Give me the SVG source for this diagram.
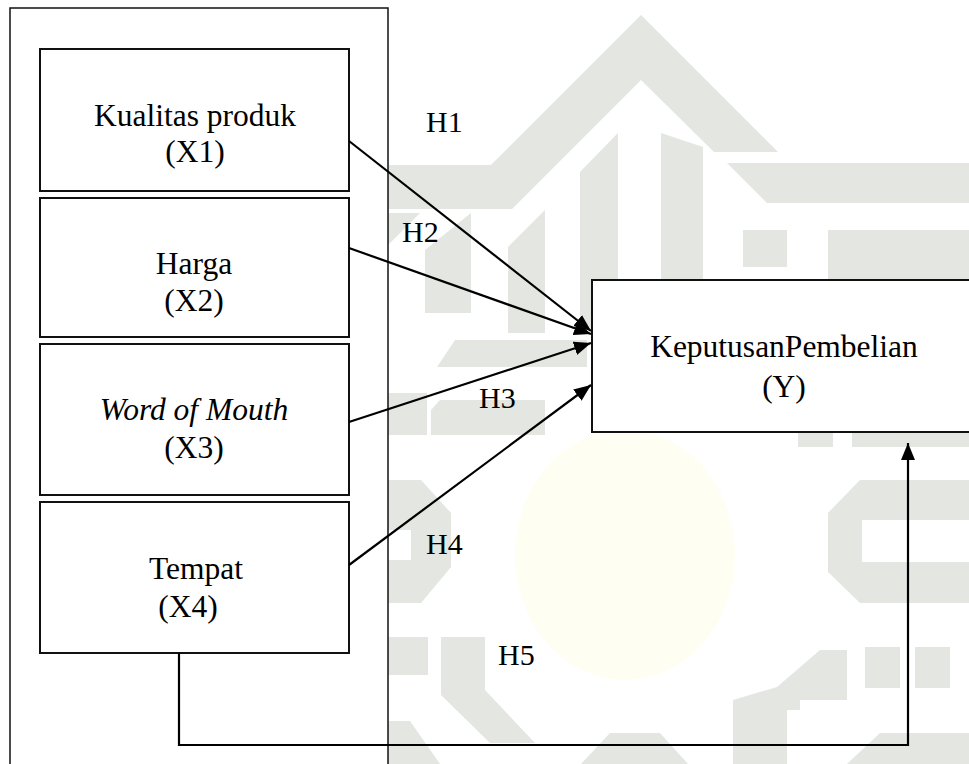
<svg xmlns="http://www.w3.org/2000/svg" width="969" height="764" viewBox="0 0 969 764">
  <defs>
    <style>
      .wm { fill: #e3e6e1; stroke: none; }
      .box { fill: #ffffff; stroke: #111111; stroke-width: 2; }
      .outer { fill: #ffffff; stroke: #111111; stroke-width: 1.5; }
      .lbl { font-family: "Liberation Serif", "Times New Roman", serif; font-size: 31.5px; fill: #000000; text-anchor: middle; }
      .hl { font-family: "Liberation Serif", "Times New Roman", serif; font-size: 30px; fill: #000000; }
      .conn { fill: none; stroke: #000000; stroke-width: 2.2; }
    </style>
    <marker id="arr" markerUnits="userSpaceOnUse" markerWidth="18" markerHeight="14" refX="17" refY="7" orient="auto">
      <path d="M0,0 L17,7 L0,14 Z" fill="#000000"/>
    </marker>
  </defs>

  <rect x="0" y="0" width="969" height="764" fill="#ffffff"/>

  <!-- watermark background -->
  <g id="watermark">
    <ellipse cx="625" cy="555" rx="110" ry="125" fill="#fffef3"/>
    <polygon class="wm" points="641,15 778,152 714,152 641,80 512,209 388,209 388,165 491,165"/>
    <polygon class="wm" points="727,163 969,163 969,203 767,203"/>
    <polygon class="wm" points="425,250 471,213 471,313 425,313"/>
    <polygon class="wm" points="388,213 420,213 388,245"/>
    <polygon class="wm" points="508,247 545,210 545,333 508,333"/>
    <polygon class="wm" points="580,172 618,133 618,330 580,330"/>
    <polygon class="wm" points="661,133 703,147 703,280 661,280"/>
    <rect class="wm" x="743" y="230" width="44" height="37"/>
    <rect class="wm" x="828" y="230" width="141" height="50"/>
    <polygon class="wm" points="455,340 587,340 587,367 437,367"/>
    <rect class="wm" x="388" y="393" width="39" height="42"/>
    <polygon class="wm" points="440,400 545,400 545,435 431,435 431,410"/>
    <path class="wm" d="M388,480 L421,480 L451,513 L451,567 L421,603 L388,603 Z"/>
    <rect x="388" y="530" width="23" height="30" fill="#ffffff"/>
    <rect class="wm" x="388" y="637" width="40" height="38"/>
    <polygon class="wm" points="441,637 485,637 485,690 535,743 490,743 441,695"/>
    <polygon class="wm" points="388,721 410,721 440,764 388,764"/>
    <polygon class="wm" points="610,733 660,733 688,764 581,764"/>
    <rect class="wm" x="798" y="433" width="35" height="14"/>
    <rect class="wm" x="852" y="433" width="117" height="14"/>
    <path class="wm" d="M860,480 L969,480 L969,520 L862,520 L862,562 L969,562 L969,603 L860,603 L828,572 L828,513 Z"/>
    <rect class="wm" x="865" y="647" width="35" height="41"/>
    <rect class="wm" x="915" y="647" width="35" height="41"/>
    <polygon class="wm" points="820,650 847,650 847,700 800,700 800,710 787,710 787,764 733,764 733,700 777,687"/>
    <polygon class="wm" points="880,733 969,733 969,764 847,764"/>
  </g>

  <!-- outer grouping box -->
  <g id="group-x">
    <rect class="outer" x="10" y="8" width="378" height="780"/>
  </g>

  <g id="node-x1">
    <rect class="box" x="40" y="49" width="309" height="142"/>
    <text class="lbl" x="195" y="126">Kualitas produk</text>
    <text class="lbl" x="195" y="162">(X1)</text>
  </g>

  <g id="node-x2">
    <rect class="box" x="40" y="198" width="309" height="139"/>
    <text class="lbl" x="194" y="274">Harga</text>
    <text class="lbl" x="194" y="311">(X2)</text>
  </g>

  <g id="node-x3">
    <rect class="box" x="40" y="344" width="309" height="151"/>
    <text class="lbl" x="194" y="420" font-style="italic">Word of Mouth</text>
    <text class="lbl" x="194" y="458">(X3)</text>
  </g>

  <g id="node-x4">
    <rect class="box" x="40" y="502" width="309" height="151"/>
    <text class="lbl" x="196" y="579">Tempat</text>
    <text class="lbl" x="188" y="617">(X4)</text>
  </g>

  <g id="node-y">
    <rect class="box" x="592" y="280" width="390" height="152"/>
    <text class="lbl" x="784" y="357">KeputusanPembelian</text>
    <text class="lbl" x="784" y="397">(Y)</text>
  </g>

  <g id="connectors">
    <line class="conn" x1="349" y1="141" x2="591" y2="331" marker-end="url(#arr)"/>
    <line class="conn" x1="349" y1="248" x2="591" y2="334" marker-end="url(#arr)"/>
    <line class="conn" x1="349" y1="422" x2="591" y2="343" marker-end="url(#arr)"/>
    <line class="conn" x1="349" y1="565" x2="591" y2="385" marker-end="url(#arr)"/>
    <polyline class="conn" points="179,653 179,745 908,745 908,443" marker-end="url(#arr)"/>
  </g>

  <g id="labels">
    <text class="hl" x="426" y="132">H1</text>
    <text class="hl" x="402" y="242">H2</text>
    <text class="hl" x="479" y="408">H3</text>
    <text class="hl" x="426" y="554">H4</text>
    <text class="hl" x="498" y="665">H5</text>
  </g>
</svg>
